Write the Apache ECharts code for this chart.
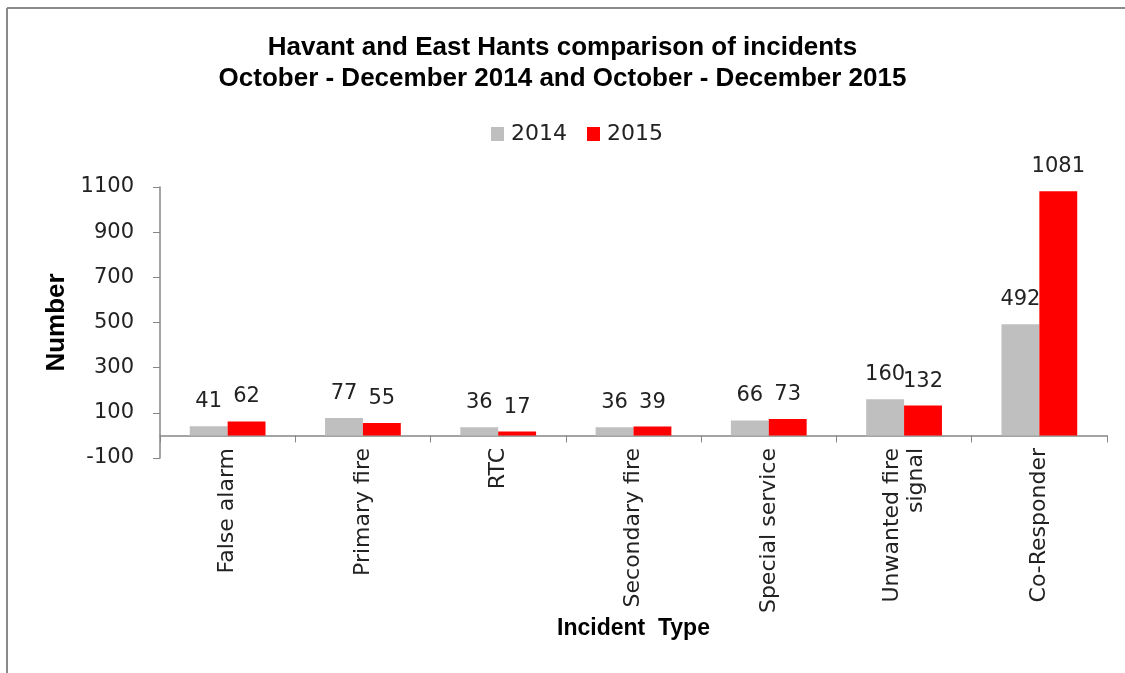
<!DOCTYPE html>
<html>
<head>
<meta charset="utf-8">
<script src="https://cdn.jsdelivr.net/npm/echarts@6/dist/echarts.min.js"></script>
<style>
  html, body { margin: 0; padding: 0; background: #fff; }
  #chart { width: 1125px; height: 673px; }
</style>
</head>
<body>
<div id="chart"></div>
<script>
const categories = ['False alarm', 'Primary fire', 'RTC', 'Secondary fire', 'Special service', 'Unwanted fire signal', 'Co-Responder'];
const values2014 = [41, 77, 36, 36, 66, 160, 492];
const values2015 = [62, 55, 17, 39, 73, 132, 1081];
const yTicks = [-100, 100, 300, 500, 700, 900, 1100];

const labelFont = 'DejaVu Sans';
const axisGray = '#868686';

const myChart = echarts.init(document.getElementById('chart'));

const option = {
  animation: false,
  title: {
    text: 'Havant and East Hants comparison of incidents\nOctober - December 2014 and October - December 2015',
    left: 'center',
    top: 27,
    textStyle: {
      fontFamily: 'Liberation Sans',
      fontWeight: 'bold',
      fontSize: 26,
      lineHeight: 31,
      color: '#000'
    }
  },
  legend: {
    data: ['2014', '2015'],
    top: 118,
    left: 486,
    itemWidth: 13,
    itemHeight: 14,
    itemGap: 20,
    icon: 'rect',
    textStyle: { fontFamily: labelFont, fontSize: 22, color: '#222', padding: [0, 0, 0, 2] }
  },
  grid: {
    left: 160,
    right: 18,
    top: 187,
    bottom: 215
  },
  xAxis: {
    type: 'category',
    data: categories,
    name: 'Incident  Type',
    nameLocation: 'middle',
    nameGap: 157,
    nameTextStyle: { fontFamily: 'Liberation Sans', fontWeight: 'bold', fontSize: 23, color: '#000' },
    axisLine: { onZero: true, lineStyle: { color: axisGray, width: 1.5 } },
    axisTick: { show: true, length: 7, lineStyle: { color: axisGray } },
    axisLabel: {
      rotate: 90,
      margin: -10,
      fontFamily: labelFont,
      fontSize: 22,
      color: '#222',
      lineHeight: 24,
      formatter: v => v === 'Unwanted fire signal' ? 'Unwanted fire\nsignal' : v
    }
  },
  yAxis: {
    type: 'value',
    min: -100,
    max: 1100,
    name: 'Number',
    nameLocation: 'middle',
    nameGap: 90,
    nameTextStyle: { fontFamily: 'Liberation Sans', fontWeight: 'bold', fontSize: 26, color: '#000' },
    splitLine: { show: false },
    axisLine: { show: true, lineStyle: { color: axisGray, width: 1.5 } },
    axisTick: { show: true, length: 7, customValues: yTicks, lineStyle: { color: axisGray } },
    axisLabel: {
      customValues: yTicks,
      margin: 26,
      fontFamily: labelFont,
      fontSize: 21,
      color: '#222',
      formatter: v => String(v)
    }
  },
  series: [
    {
      name: '2014',
      type: 'bar',
      data: values2014,
      barGap: '0%',
      barCategoryGap: '44%',
      itemStyle: { color: '#bfbfbf' },
      label: { show: true, position: 'top', distance: 14, fontFamily: labelFont, fontSize: 21, color: '#222' }
    },
    {
      name: '2015',
      type: 'bar',
      data: values2015,
      itemStyle: { color: '#ff0000' },
      label: { show: true, position: 'top', distance: 14, fontFamily: labelFont, fontSize: 21, color: '#222' }
    }
  ],
  graphic: [
    { type: 'line', shape: { x1: 7, y1: 8, x2: 1125, y2: 8 }, style: { stroke: '#8a8a8a', lineWidth: 2 } },
    { type: 'line', shape: { x1: 7, y1: 8, x2: 7, y2: 673 }, style: { stroke: '#8a8a8a', lineWidth: 2 } }
  ]
};

myChart.setOption(option);
</script>
</body>
</html>
